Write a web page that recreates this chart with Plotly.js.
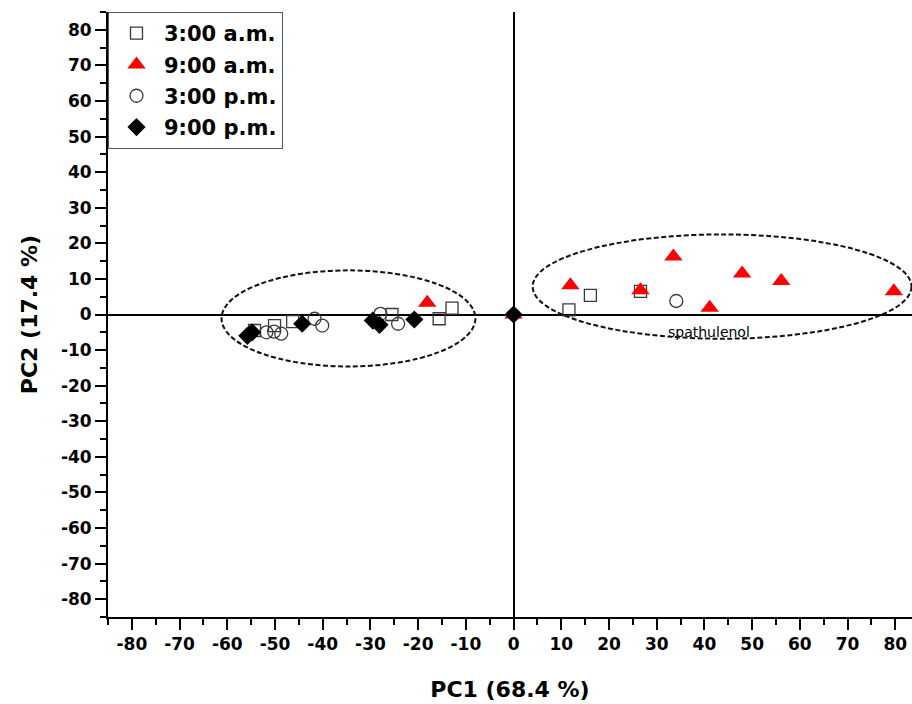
<!DOCTYPE html>
<html>
<head>
<meta charset="utf-8">
<script src="https://cdn.plot.ly/plotly-3.0.1.min.js"></script>
<style>html,body{margin:0;padding:0;background:#fff;}#chart{width:912px;height:704px;}</style>
</head>
<body>
<div id="chart"></div>
<script>
// Series names
const seriesNames = ["3:00 a.m.", "9:00 a.m.", "3:00 p.m.", "9:00 p.m."];

// 3:00 a.m. (open squares)
const am3X = [-54.3, -50.1, -46.3, -25.5, -15.6, -12.9, 11.6, 16.1, 26.6];
const am3Y = [-4.5, -3.1, -2.0, 0.0, -1.2, 1.8, 1.3, 5.4, 6.5];

// 9:00 a.m. (red triangles)
const am9X = [-18.1, 0.0, 11.9, 26.6, 33.5, 41.1, 47.9, 56.1, 79.7];
const am9Y = [3.3, 0.0, 8.2, 6.8, 16.3, 1.9, 11.5, 9.4, 6.5];

// 3:00 p.m. (open circles)
const pm3X = [-51.8, -50.2, -48.7, -41.7, -40.1, -27.9, -24.2, 34.1];
const pm3Y = [-5.0, -4.8, -5.4, -1.2, -3.1, 0.2, -2.6, 3.8];

// 9:00 p.m. (black diamonds)
const pm9X = [-55.8, -54.8, -44.3, -29.5, -28.1, -20.8, 0.0];
const pm9Y = [-6.0, -5.0, -2.6, -1.7, -2.9, -1.4, 0.0];

// Tick values and labels (hyphen minus as in the original)
const tickValues = [-80, -70, -60, -50, -40, -30, -20, -10, 0, 10, 20, 30, 40, 50, 60, 70, 80];
const tickLabels = ["-80", "-70", "-60", "-50", "-40", "-30", "-20", "-10", "0", "10", "20", "30", "40", "50", "60", "70", "80"];

// Group ellipses (data coordinates) and label
const ellipseLeft = [-61.2, -14.6, -8.0, 12.4];   // x0, y0, x1, y1
const ellipseRight = [4.0, -6.8, 83.4, 22.5];
const noteText = "spathulenol";
const notePos = [41, -5];

const FONT = "DejaVu Sans, Liberation Sans, Arial, sans-serif";

const traces = [
  {x: am3X, y: am3Y, name: seriesNames[0], type: "scatter", mode: "markers", legendgroup: "a",
   marker: {symbol: "square-open", size: 12, color: "#3a3a3a", line: {width: 1.3}}},
  {x: am9X, y: am9Y, name: seriesNames[1], type: "scatter", mode: "markers", legendgroup: "b",
   marker: {symbol: "triangle-up", size: 16, color: "#ff0000", line: {width: 0}}},
  {x: pm3X, y: pm3Y, name: seriesNames[2], type: "scatter", mode: "markers", legendgroup: "c",
   marker: {symbol: "circle-open", size: 13, color: "#3a3a3a", line: {width: 1.3}}},
  {x: pm9X, y: pm9Y, name: seriesNames[3], type: "scatter", mode: "markers", legendgroup: "d",
   marker: {symbol: "diamond", size: 14, color: "#000000", line: {width: 0}}}
];

function ell(e) {
  return {type: "circle", xref: "x", yref: "y", x0: e[0], y0: e[1], x1: e[2], y1: e[3],
          line: {color: "#111", width: 2, dash: "5px,2.5px"}};
}

const axisCommon = {
  showline: true, linecolor: "#000", linewidth: 2, mirror: false,
  showgrid: false, zeroline: true, zerolinecolor: "#000", zerolinewidth: 2,
  ticks: "outside", ticklen: 11, tickwidth: 2, tickcolor: "#000",
  tickmode: "array", tickvals: tickValues, ticktext: tickLabels,
  minor: {ticks: "outside", ticklen: 6, tickwidth: 2, tickcolor: "#000", dtick: 5, tick0: 0, showgrid: false},
  tickfont: {family: FONT, size: 17, color: "#000", weight: "bold"},
  fixedrange: true
};

const layout = {
  width: 912, height: 704,
  margin: {l: 108, r: 0, t: 12, b: 87},
  paper_bgcolor: "#fff", plot_bgcolor: "#fff",
  showlegend: true,
  legend: {x: 0, y: 1, xanchor: "left", yanchor: "top", xref: "paper", yref: "paper",
           bgcolor: "#fff", bordercolor: "#555", borderwidth: 1,
           font: {family: FONT, size: 21, color: "#000", weight: "bold"},
           tracegroupgap: 1, itemwidth: 45},
  xaxis: Object.assign({}, axisCommon, {
    range: [-85, 83.5],
    title: {text: "PC1 (68.4 %)", font: {family: FONT, size: 22, color: "#000", weight: "bold"}, standoff: 28}
  }),
  yaxis: Object.assign({}, axisCommon, {
    range: [-85, 85],
    title: {text: "PC2 (17.4 %)", font: {family: FONT, size: 22, color: "#000", weight: "bold"}, standoff: 17}
  }),
  shapes: [ell(ellipseLeft), ell(ellipseRight)],
  annotations: [{x: notePos[0], y: notePos[1], xref: "x", yref: "y", text: noteText, showarrow: false,
                 font: {family: FONT, size: 14, color: "#000"}}]
};

Plotly.newPlot("chart", traces, layout, {displayModeBar: false, staticPlot: true});
</script>
</body>
</html>
